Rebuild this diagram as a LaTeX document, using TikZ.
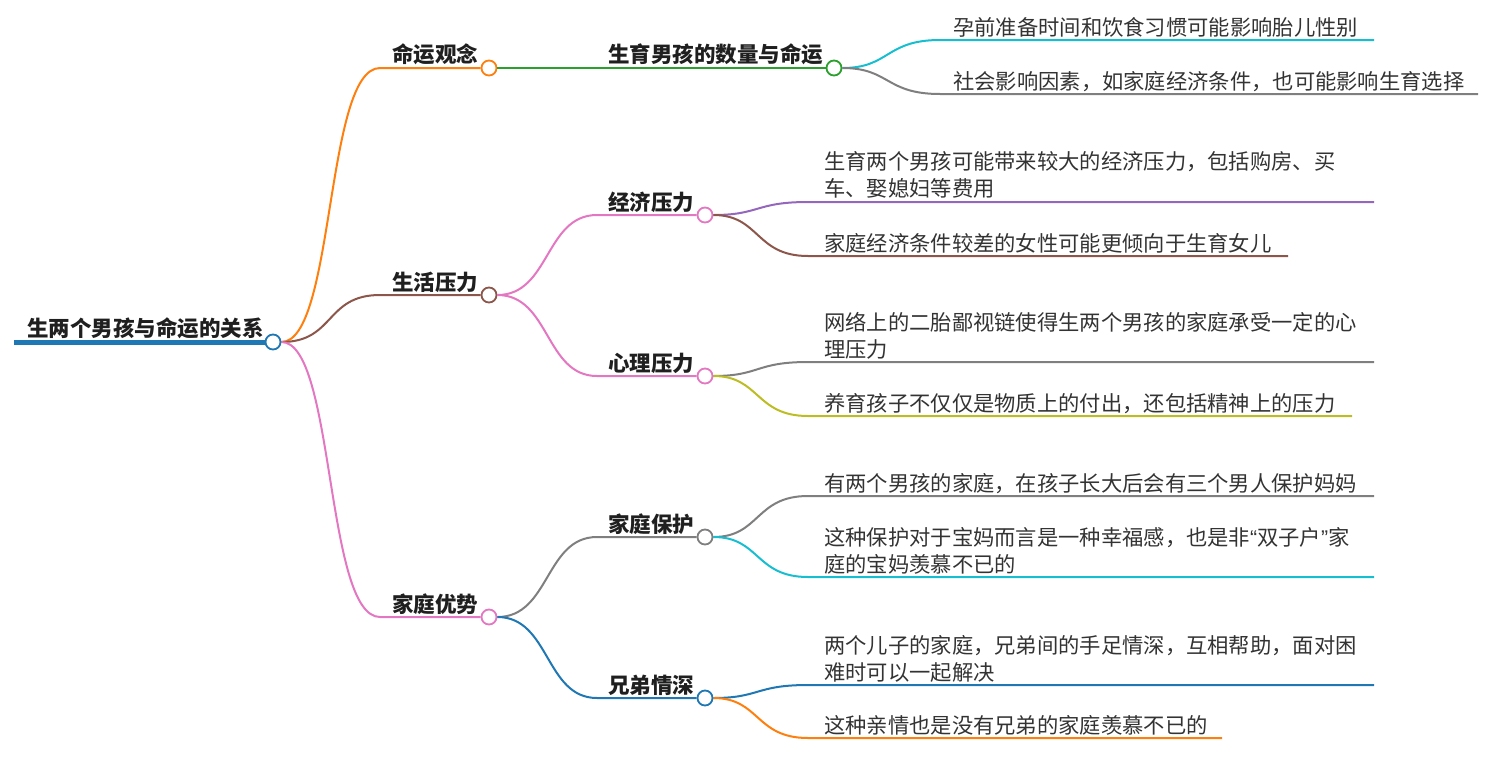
\documentclass[tikz,border=0pt]{standalone}
\usepackage{fontspec}
\setmainfont{Noto Sans CJK SC}
\newfontfamily\quotefont{Liberation Sans}
\definecolor{cblue}{HTML}{1F77B4}
\definecolor{corange}{HTML}{FF7F0E}
\definecolor{cgreen}{HTML}{2CA02C}
\definecolor{cpurple}{HTML}{9467BD}
\definecolor{cbrown}{HTML}{8C564B}
\definecolor{cpink}{HTML}{E377C2}
\definecolor{cgray}{HTML}{7F7F7F}
\definecolor{colive}{HTML}{BCBD22}
\definecolor{ccyan}{HTML}{17BECF}
\definecolor{ctext}{HTML}{333333}
\begin{document}
\begin{tikzpicture}[x=1pt,y=-1pt,
  dot/.style={circle,draw,fill=white,line width=1.8pt,minimum size=15pt,inner sep=0pt},
  lbl/.style={font=\fontsize{21.5}{27}\selectfont\bfseries,text=black!88,inner sep=0pt,anchor=south west},
  leaf/.style={font=\fontsize{21.3}{27}\selectfont,text=ctext,inner sep=0pt,anchor=south west,align=left},
  edge/.style={line width=2pt}]
\useasboundingbox (0,0) rectangle (1501,763);
% root
\node[dot,draw=cblue] (root) at (273,342) {};
\coordinate (rootL) at (14,342);
\draw[line width=5pt,cblue] (rootL) -- (root.west);
\node[lbl] (troot) at (27,339) {生两个男孩与命运的关系};
% level 1
\node[dot,draw=corange] (a) at (489,68) {};
\node[dot,draw=cbrown] (b) at (489,295) {};
\node[dot,draw=cpink] (c) at (489,617) {};
\coordinate (a0) at (380,68);
\coordinate (b0) at (380,295);
\coordinate (c0) at (380,617);
\draw[edge,corange] (root.east) .. controls (335,342) and (325,68) .. (a0) -- (a.west);
\draw[edge,cbrown] (root.east) .. controls (335,342) and (325,295) .. (b0) -- (b.west);
\draw[edge,cpink] (root.east) .. controls (335,342) and (325,617) .. (c0) -- (c.west);
\node[lbl] (ta) at (392,65.5) {命运观念};
\node[lbl] (tb) at (392,292.5) {生活压力};
\node[lbl] (tc) at (392,614.5) {家庭优势};
% level 2
\node[dot,draw=cgreen] (g) at (834,68) {};
\draw[edge,cgreen] (a.east) -- (g.west);
\node[lbl] (tg) at (608,65.5) {生育男孩的数量与命运};
\node[dot,draw=cpink] (e) at (705,215) {};
\node[dot,draw=cpink] (p) at (705,376) {};
\coordinate (e0) at (597,215);
\coordinate (p0) at (597,376);
\draw[edge,cpink] (b.east) .. controls (550,295) and (545,215) .. (e0) -- (e.west);
\draw[edge,cpink] (b.east) .. controls (550,295) and (545,376) .. (p0) -- (p.west);
\node[lbl] (te) at (608,212.5) {经济压力};
\node[lbl] (tp) at (608,373.5) {心理压力};
\node[dot,draw=cgray] (h) at (705,537) {};
\node[dot,draw=cblue] (s) at (705,698) {};
\coordinate (h0) at (597,537);
\coordinate (s0) at (597,698);
\draw[edge,cgray] (c.east) .. controls (550,617) and (545,537) .. (h0) -- (h.west);
\draw[edge,cblue] (c.east) .. controls (550,617) and (545,698) .. (s0) -- (s.west);
\node[lbl] (th) at (608,534.5) {家庭保护};
\node[lbl] (ts) at (608,695.5) {兄弟情深};
% leaves of g
\coordinate (g1a) at (940,40);  \coordinate (g1b) at (1374,40);
\coordinate (g2a) at (940,94);  \coordinate (g2b) at (1478,94);
\draw[edge,ccyan] (g.east) .. controls (890,68) and (885,40) .. (g1a) -- (g1b);
\draw[edge,cgray] (g.east) .. controls (890,68) and (885,94) .. (g2a) -- (g2b);
\node[leaf] (l1) at (953,37.5) {孕前准备时间和饮食习惯可能影响胎儿性别};
\node[leaf] (l2) at (953,91.5) {社会影响因素，如家庭经济条件，也可能影响生育选择};
% leaves of e
\coordinate (e1a) at (808,202); \coordinate (e1b) at (1374,202);
\coordinate (e2a) at (808,256); \coordinate (e2b) at (1288,256);
\draw[edge,cpurple] (e.east) .. controls (760,215) and (755,202) .. (e1a) -- (e1b);
\draw[edge,cbrown] (e.east) .. controls (760,215) and (755,256) .. (e2a) -- (e2b);
\node[leaf] (l3) at (824,199) {生育两个男孩可能带来较大的经济压力，包括购房、买\\车、娶媳妇等费用};
\node[leaf] (l4) at (824,253.5) {家庭经济条件较差的女性可能更倾向于生育女儿};
% leaves of p
\coordinate (p1a) at (808,362); \coordinate (p1b) at (1374,362);
\coordinate (p2a) at (808,416); \coordinate (p2b) at (1352,416);
\draw[edge,cgray] (p.east) .. controls (760,376) and (755,362) .. (p1a) -- (p1b);
\draw[edge,colive] (p.east) .. controls (760,376) and (755,416) .. (p2a) -- (p2b);
\node[leaf] (l5) at (824,359.5) {网络上的二胎鄙视链使得生两个男孩的家庭承受一定的心\\理压力};
\node[leaf] (l6) at (824,413.5) {养育孩子不仅仅是物质上的付出，还包括精神上的压力};
% leaves of h
\coordinate (h1a) at (808,496); \coordinate (h1b) at (1374,496);
\coordinate (h2a) at (808,577); \coordinate (h2b) at (1374,577);
\draw[edge,cgray] (h.east) .. controls (760,537) and (755,496) .. (h1a) -- (h1b);
\draw[edge,ccyan] (h.east) .. controls (760,537) and (755,577) .. (h2a) -- (h2b);
\node[leaf] (l7) at (824,493.5) {有两个男孩的家庭，在孩子长大后会有三个男人保护妈妈};
\node[leaf] (l8) at (824,574.5) {这种保护对于宝妈而言是一种幸福感，也是非{\quotefont“}双子户{\quotefont”}家\\庭的宝妈羡慕不已的};
% leaves of s
\coordinate (s1a) at (808,685); \coordinate (s1b) at (1374,685);
\coordinate (s2a) at (808,738); \coordinate (s2b) at (1222,738);
\draw[edge,cblue] (s.east) .. controls (760,698) and (755,685) .. (s1a) -- (s1b);
\draw[edge,corange] (s.east) .. controls (760,698) and (755,738) .. (s2a) -- (s2b);
\node[leaf] (l9) at (824,682.5) {两个儿子的家庭，兄弟间的手足情深，互相帮助，面对困\\难时可以一起解决};
\node[leaf] (l10) at (824,735.5) {这种亲情也是没有兄弟的家庭羡慕不已的};
\end{tikzpicture}
\end{document}
